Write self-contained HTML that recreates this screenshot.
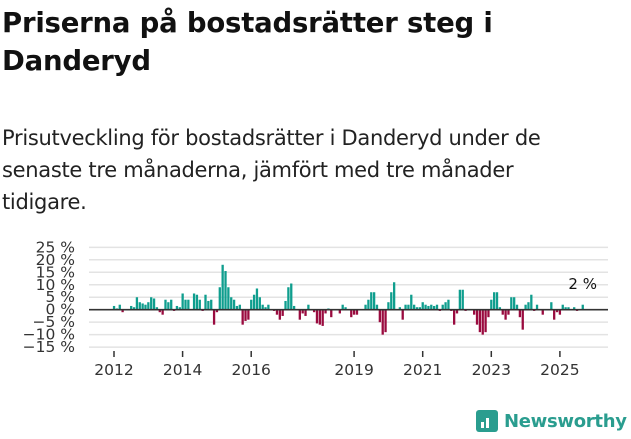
<!DOCTYPE html>
<html><head><meta charset="utf-8"><style>
body{margin:0;width:631px;height:439px;background:#fff;font-family:"Liberation Sans","DejaVu Sans",sans-serif;overflow:hidden;position:relative;color:#111}
h1{position:absolute;left:2px;top:4px;margin:0;font-size:27.5px;line-height:38px;font-weight:bold;width:620px;font-family:"DejaVu Sans",sans-serif;letter-spacing:-0.2px}
p{position:absolute;left:2px;top:122px;margin:0;font-size:21px;line-height:32px;width:560px;color:#222;font-family:"DejaVu Sans",sans-serif;letter-spacing:-0.3px}
</style></head><body>
<h1>Priserna på bostadsrätter steg i Danderyd</h1>
<p>Prisutveckling för bostadsrätter i Danderyd under de senaste tre månaderna, jämfört med tre månader tidigare.</p>
<svg id="chart" width="631" height="439" style="position:absolute;left:0;top:0"></svg>
<div style="position:absolute;left:476px;top:410px;display:flex;align-items:center">
<div style="width:22px;height:22px;background:#2a9d8f;border-radius:3px;margin-right:6px;position:relative"><div style="position:absolute;left:5px;bottom:4px;width:3px;height:6px;background:#fff"></div><div style="position:absolute;left:10px;bottom:4px;width:3px;height:10px;background:#fff"></div></div>
<span style="font-size:18px;font-weight:bold;color:#2a9d8f;font-family:'DejaVu Sans',sans-serif;letter-spacing:-0.3px">Newsworthy</span></div>
<script>
const values=[1.5,0.5,2,-1,0,0,1.5,1,5,3,2.5,2,3,5,4.5,1,-1,-2,4,3,4,-0.5,1.5,1,6.5,4,4,0,6.5,6,4,-0.5,6,3.5,4,-6,-1,9,18,15.5,9,5,4,1.5,2,-6,-4.5,-4,4,6,8.5,5,2,1,2,0,-0.5,-2,-4,-2.5,3.5,9,10.5,1.5,0,-4,-1.5,-2.5,2,0,-1,-5.5,-6,-6.5,-1.5,0.5,-3,0,0,-1.5,2,1,0,-3,-2,-2,0,0,2,4,7,7,2,-5,-10,-9,3,7,11,0,1,-4,2,2,6,2,1,1,3,2,1.5,2,1.5,2,-0.5,2,3,4,-0.5,-6,-1.5,8,8,-0.5,0,0,-2,-6,-9,-10,-9,-3,4,7,7,1,-2,-4,-2,5,5,2,-3,-8,2,3,6,-0.5,2,0,-2,0,0,3,-4,-1,-2,2,1,1,0,1,-0.5,0,2];
const yTicks=[25,20,15,10,5,0,-5,-10,-15];
const yearLabels=[2012,2014,2016,2019,2021,2023,2025];
const startYear=2012;
const lastLabel="2 %";
const svg=document.getElementById('chart');const NS='http://www.w3.org/2000/svg';
const y=v=>309.7-v*2.495;const x=i=>114+2.858*i;const xYear=yr=>114+(yr-startYear)*34.3;
function mk(t,a){const e=document.createElementNS(NS,t);for(const k in a)e.setAttribute(k,a[k]);svg.appendChild(e);return e;}
yTicks.forEach(t=>{if(t!==0){const l=mk('line',{x1:89,x2:608,y1:y(t),y2:y(t),stroke:'#e3e3e3','stroke-width':1.5});}
const tx=mk('text',{x:75,y:y(t)+5,'text-anchor':'end','font-size':15.5,fill:'#333','font-family':'DejaVu Sans,sans-serif'});tx.textContent=(t<0?'\u2212'+(-t):t)+' %';});
values.forEach((v,i)=>{if(v===0)return;const r=mk('rect',{x:x(i)-1.1,width:2.3,y:Math.min(y(v),y(0)),height:Math.abs(y(v)-y(0)),fill:v>0?'#0f9e8e':'#9a0b3f'});});
const z=mk('line',{x1:89,x2:608,y1:y(0),y2:y(0),stroke:'#333','stroke-width':1.6});
yearLabels.forEach(yr=>{const t=mk('line',{x1:xYear(yr),x2:xYear(yr),y1:351,y2:357,stroke:'#333','stroke-width':1.5});
const tx=mk('text',{x:xYear(yr),y:375,'text-anchor':'middle','font-size':15.5,fill:'#333','font-family':'DejaVu Sans,sans-serif'});tx.textContent=yr;});
const lb=mk('text',{x:x(values.length-1),y:289,'text-anchor':'middle','font-size':15,fill:'#111','font-family':'DejaVu Sans,sans-serif'});lb.textContent=lastLabel;


</script>
</body></html>
